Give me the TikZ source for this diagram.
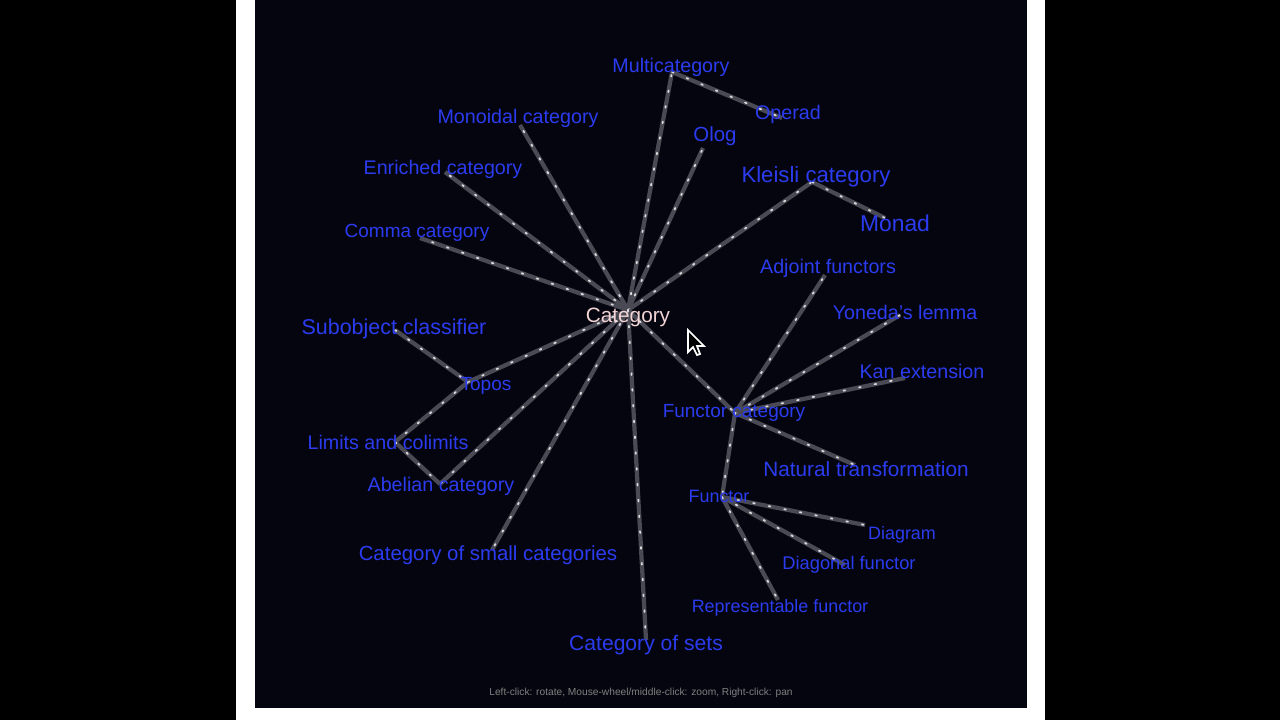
\documentclass[tikz,border=0pt]{standalone}
\usepackage{fontspec}
\setmainfont{Liberation Sans}
\definecolor{panel}{HTML}{05050F}
\definecolor{lbl}{HTML}{2B3CF0}
\definecolor{hublbl}{HTML}{F2D4D4}
\definecolor{link}{HTML}{4A4A55}
\tikzset{
  lab/.style={text=lbl, inner sep=0pt, font=\fontsize{#1}{#1}\selectfont},
  lab/.default=5.4,
  edge/.style={link, line width=1.2pt},
  dots/.style={white!80!link, line width=0.5pt, dash pattern=on 0.5pt off 4pt, line cap=round}
}
\newcommand{\link}[2]{\draw[edge] (#1) -- (#2); \draw[dots] (#1) -- (#2);}
\begin{document}
\begin{tikzpicture}[x=0.01cm, y=-0.01cm]
  % frame
  \fill[black] (0,0) rectangle (1280,720);
  \fill[white] (236,0) rectangle (1045,720);
  \fill[panel] (255,0) rectangle (1027,708);
  \useasboundingbox (0,0) rectangle (1280,720);
  % graph points
  \coordinate (hub) at (628,310);
  \coordinate (multi) at (672,72);
  \coordinate (operad) at (782,118);
  \coordinate (olog) at (703,148);
  \coordinate (monoidal) at (520,125);
  \coordinate (enriched) at (445,172);
  \coordinate (comma) at (420,238);
  \coordinate (kleisli) at (812,182);
  \coordinate (monad) at (885,218);
  \coordinate (functorcat) at (735,413);
  \coordinate (adjoint) at (825,275);
  \coordinate (yoneda) at (900,315);
  \coordinate (kan) at (905,378);
  \coordinate (natural) at (855,465);
  \coordinate (functor) at (722,497);
  \coordinate (diagram) at (865,525);
  \coordinate (diagonal) at (845,565);
  \coordinate (representable) at (778,600);
  \coordinate (topos) at (468,382);
  \coordinate (subobject) at (395,330);
  \coordinate (limits) at (395,442);
  \coordinate (abelian) at (440,484);
  \coordinate (smallcat) at (492,550);
  \coordinate (sets) at (646,640);
  % connectors
  \foreach \t in {multi,olog,monoidal,enriched,comma,kleisli,functorcat,topos,abelian,smallcat,sets}
    {\link{hub}{\t}}
  \link{multi}{operad}
  \link{kleisli}{monad}
  \foreach \t in {adjoint,yoneda,kan,natural,functor}
    {\link{functorcat}{\t}}
  \foreach \t in {diagram,diagonal,representable}
    {\link{functor}{\t}}
  \link{subobject}{topos}
  \link{topos}{limits}
  \link{limits}{abelian}
  % labels
  \node[lab=5.6] (l-multi) at (671,67) {Multicategory};
  \node[lab=5.6] (l-monoidal) at (518,118) {Monoidal category};
  \node[lab=5.8] (l-olog) at (715,136) {Olog};
  \node[lab=5.6] (l-operad) at (788,114) {Operad};
  \node[lab=5.6] (l-enriched) at (443,169) {Enriched category};
  \node[lab=6.3] (l-kleisli) at (816,177) {Kleisli category};
  \node[lab=6.5] (l-monad) at (895,223) {Monad};
  \node[lab=5.4] (l-comma) at (417,233) {Comma category};
  \node[lab=5.6] (l-adjoint) at (828,268) {Adjoint functors};
  \node[lab=5.6] (l-yoneda) at (905,312) {Yoneda's lemma};
  \node[lab=6.1] (l-subobject) at (394,329) {Subobject classifier};
  \node[lab=5.9, text=hublbl] (l-hub) at (628,317) {Category};
  \node[lab=5.6] (l-kan) at (922,371) {Kan extension};
  \node[lab=5.4] (l-topos) at (486,386) {Topos};
  \node[lab=5.4] (l-functorcat) at (734,413) {Functor category};
  \node[lab=5.6] (l-limits) at (388,442) {Limits and colimits};
  \node[lab=5.9] (l-natural) at (866,469) {Natural transformation};
  \node[lab=5.6] (l-abelian) at (441,486) {Abelian category};
  \node[lab=5.1] (l-functor) at (719,496) {Functor};
  \node[lab=5.1] (l-diagram) at (902,535) {Diagram};
  \node[lab=5.2] (l-diagonal) at (849,565) {Diagonal functor};
  \node[lab=5.8] (l-smallcat) at (488,555) {Category of small categories};
  \node[lab=5.1] (l-representable) at (780,608) {Representable functor};
  \node[lab=6.0] (l-sets) at (646,645) {Category of sets};
  \node[text=gray, inner sep=0pt, font=\fontsize{2.9}{3}\selectfont] (help) at (641,693)
    {Left-click: rotate, Mouse-wheel/middle-click: zoom, Right-click: pan};
  % pointer
  \draw[white, fill=black, line width=0.5pt] (688,330) -- (688,352) -- (693,347) -- (697,355) -- (700,354) -- (697,346) -- (704,346) -- cycle;
\end{tikzpicture}
\end{document}
